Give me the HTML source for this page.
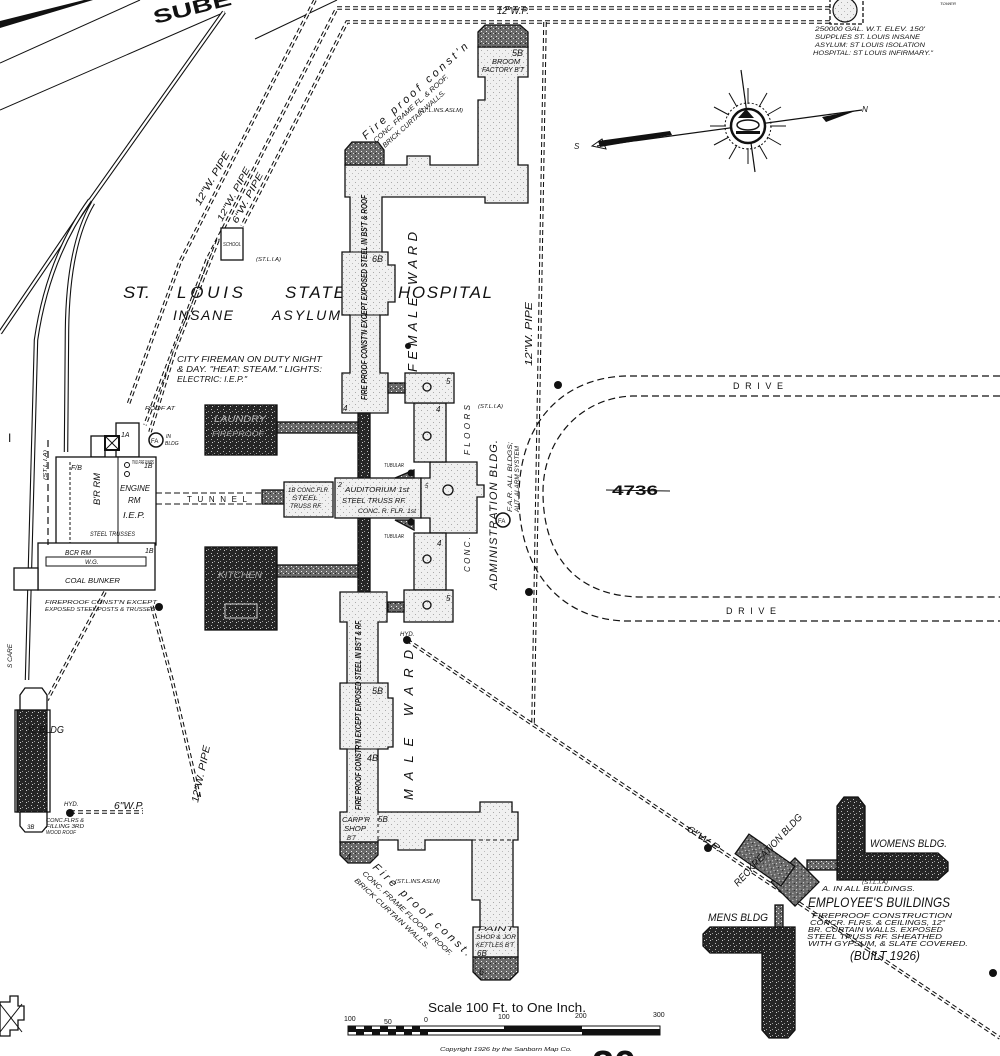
<!DOCTYPE html>
<html><head><meta charset="utf-8">
<style>
html,body{margin:0;padding:0;background:#fff;}
svg{display:block;}
text{font-family:"Liberation Sans",sans-serif;font-style:italic;fill:#111;}
.p1{stroke:#111;stroke-width:3.6;stroke-dasharray:5 3;fill:none}
.p2{stroke:#fff;stroke-width:1.5;fill:none}
.t1{stroke:#111;stroke-width:4.5;fill:none}
.t2{stroke:#fff;stroke-width:2.3;fill:none}
.b{stroke:#111;stroke-width:1.3}
.dl{stroke:#111;stroke-width:1.2;stroke-dasharray:7 4;fill:none}
.ln{stroke:#111;stroke-width:1;fill:none}
</style></head><body>
<svg width="1000" height="1056" viewBox="0 0 1000 1056" xmlns="http://www.w3.org/2000/svg">
<defs>
<pattern id="dk" width="6" height="6" patternUnits="userSpaceOnUse">
<rect width="6" height="6" fill="#262626"/>
<rect x="1" y="1" width="1" height="1" fill="#bbb"/>
<rect x="4" y="3" width="1" height="1" fill="#999"/>
<rect x="2" y="4" width="1" height="1" fill="#ccc"/>
</pattern>
<pattern id="md" width="5" height="5" patternUnits="userSpaceOnUse">
<rect width="5" height="5" fill="#6a6a6a"/>
<rect x="1" y="1" width="1" height="1" fill="#eee"/>
<rect x="3" y="3" width="1" height="1" fill="#ddd"/>
<rect x="0" y="3" width="1" height="1" fill="#222"/>
</pattern>
<pattern id="lt" width="6" height="6" patternUnits="userSpaceOnUse">
<rect width="6" height="6" fill="#f0f0f0"/>
<rect x="1" y="2" width="1" height="1" fill="#aaa"/>
<rect x="4" y="5" width="1" height="1" fill="#bbb"/>
</pattern>
<path id="pa" d="M315,0 L180,262 L128,405"/>
<path id="pb" d="M830,8 L337,8 L207,260 L145,425"/>
<path id="pc" d="M830,22 L347,22 L242,226"/>
<path id="pc2" d="M218,240 L175,350 L150,432"/>
<path id="pd" d="M545,22 L533,725"/>
<path id="pe" d="M407,640 L1000,1038"/>
<path id="pf" d="M152,606 L172,680 L200,800"/>
<path id="pg" d="M70,812 L143,812"/>
<path id="ph" d="M105,592 L47,700"/>
<path id="ta" d="M224,12 L87,205 L0,333"/>
<path id="tb" d="M90,200 Q48,258 36,340 L27,680"/>
<path id="tc" d="M93,203 Q68,245 67,330 L66,452"/>
</defs>
<rect width="1000" height="1056" fill="#fff"/>

<!-- top left lines -->
<polygon points="0,21 84,0 93,0 0,28" fill="#111"/>
<line x1="0" y1="63" x2="140" y2="0" class="ln"/>
<line x1="0" y1="110" x2="225" y2="12" class="ln"/>
<line x1="255" y1="39" x2="337" y2="0" class="ln"/>
<text transform="translate(155,24) rotate(-14)" font-size="19" font-weight="bold" style="font-style:normal" textLength="80" lengthAdjust="spacingAndGlyphs">SUBE</text>

<!-- tracks -->
<use href="#ta" class="t1"/><use href="#ta" class="t2"/>
<use href="#tb" class="t1"/><use href="#tb" class="t2"/>
<use href="#tc" class="t1"/><use href="#tc" class="t2"/>

<!-- pipes -->
<g>
<use href="#pa" class="p1"/><use href="#pa" class="p2"/>
<use href="#pb" class="p1"/><use href="#pb" class="p2"/>
<use href="#pc" class="p1"/><use href="#pc" class="p2"/>
<use href="#pc2" class="p1"/><use href="#pc2" class="p2"/>
<use href="#pd" class="p1"/><use href="#pd" class="p2"/>
<use href="#pe" class="p1"/><use href="#pe" class="p2"/>
<use href="#pf" class="p1"/><use href="#pf" class="p2"/>
<use href="#pg" class="p1"/><use href="#pg" class="p2"/>
<use href="#ph" class="p1"/><use href="#ph" class="p2"/>
</g>

<!-- pipe labels -->
<text x="497" y="14" font-size="10" textLength="32" lengthAdjust="spacingAndGlyphs">12"W.P.</text>
<text transform="translate(200,206) rotate(-60)" font-size="10" textLength="60" lengthAdjust="spacingAndGlyphs">12"W. PIPE</text>
<text transform="translate(222,222) rotate(-62)" font-size="9" textLength="60" lengthAdjust="spacingAndGlyphs">12"W. PIPE</text>
<text transform="translate(237,224) rotate(-62)" font-size="9" textLength="56" lengthAdjust="spacingAndGlyphs">6"W. PIPE</text>
<text transform="translate(532,366) rotate(-90)" font-size="10" textLength="64" lengthAdjust="spacingAndGlyphs">12"W. PIPE</text>
<text transform="translate(198,803) rotate(-78)" font-size="10" textLength="58" lengthAdjust="spacingAndGlyphs">12"W. PIPE</text>
<text transform="translate(686,830) rotate(34)" font-size="9" textLength="40" lengthAdjust="spacingAndGlyphs">6"W.P.</text>

<!-- water tower -->
<rect x="830" y="-2" width="33" height="26" fill="none" stroke="#111" stroke-width="1.3" stroke-dasharray="4 2"/>
<circle cx="845" cy="10" r="12" fill="url(#lt)" stroke="#111" stroke-width="1.2"/>
<text x="815" y="31" font-size="6.5" textLength="110" lengthAdjust="spacingAndGlyphs">250000 GAL. W.T. ELEV. 150'</text>
<text x="815" y="39" font-size="6.5" textLength="105" lengthAdjust="spacingAndGlyphs">SUPPLIES ST. LOUIS INSANE</text>
<text x="815" y="47" font-size="6.5" textLength="110" lengthAdjust="spacingAndGlyphs">ASYLUM: ST LOUIS ISOLATION</text>
<text x="813" y="55" font-size="6.5" textLength="120" lengthAdjust="spacingAndGlyphs">HOSPITAL: ST LOUIS INFIRMARY."</text>
<text x="940" y="5" font-size="4" textLength="16" lengthAdjust="spacingAndGlyphs">TOWER</text>

<!-- compass -->
<g>
<line x1="597" y1="146" x2="862" y2="110" stroke="#111" stroke-width="1.2"/>
<line x1="741" y1="70" x2="755" y2="172" stroke="#111" stroke-width="1.2"/>
<polygon points="598,141 670,131 672,135 600,147" fill="#111"/>
<polygon points="592,146 602,139 606,149" fill="none" stroke="#111"/>
<polygon points="822,117 858,110 826,122" fill="#111"/>
<g stroke="#111" stroke-width="1">
<line x1="770" y1="126" x2="786" y2="126"/><line x1="767" y1="115" x2="781" y2="107"/>
<line x1="759" y1="107" x2="767" y2="93"/><line x1="748" y1="104" x2="748" y2="88"/>
<line x1="737" y1="107" x2="729" y2="93"/><line x1="729" y1="115" x2="714" y2="107"/>
<line x1="726" y1="126" x2="710" y2="126"/><line x1="729" y1="137" x2="714" y2="145"/>
<line x1="737" y1="145" x2="729" y2="159"/><line x1="759" y1="145" x2="767" y2="159"/>
<line x1="767" y1="137" x2="781" y2="145"/><line x1="748" y1="148" x2="748" y2="164"/>
</g>
<circle cx="748" cy="126" r="23" fill="none" stroke="#111" stroke-width="1" stroke-dasharray="2 2"/>
<circle cx="748" cy="126" r="17" fill="#fff" stroke="#111" stroke-width="2.5"/>
<polygon points="738,118 746,109 754,118" fill="#111"/>
<ellipse cx="748" cy="125" rx="11" ry="5" fill="none" stroke="#111" stroke-width="1.5"/>
<rect x="736" y="131" width="24" height="3" fill="#111"/>
<text x="574" y="149" font-size="8">S</text>
<text x="862" y="112" font-size="8">N</text>
</g>

<!-- drive -->
<path d="M1000,376 L625,376 C565,378 519,420 519,497 C519,570 560,619 625,621 L1000,621" class="dl"/>
<path d="M1000,396 L632,396 C580,398 543,440 543,492 C543,555 575,596 640,597 L1000,597" class="dl"/>
<text x="733" y="389" font-size="9" style="font-style:normal" textLength="50" lengthAdjust="spacing">DRIVE</text>
<text x="726" y="614" font-size="9" style="font-style:normal" textLength="50" lengthAdjust="spacing">DRIVE</text>
<text x="612" y="495" font-size="14" font-weight="bold" style="font-style:normal" textLength="46" lengthAdjust="spacingAndGlyphs">4736</text>
<line x1="606" y1="490" x2="670" y2="491" stroke="#111" stroke-width="1"/>

<!-- hydrants -->
<g fill="#111">
<circle cx="407" cy="640" r="4"/><circle cx="558" cy="385" r="4"/><circle cx="529" cy="592" r="4"/>
<circle cx="70" cy="813" r="4"/><circle cx="993" cy="973" r="4"/><circle cx="708" cy="848" r="4"/>
<circle cx="159" cy="607" r="4"/><circle cx="408" cy="346" r="3"/>
</g>

<!-- school -->
<rect x="221" y="228" width="22" height="32" fill="#fff" class="b"/>
<text x="223" y="246" font-size="5" textLength="18" lengthAdjust="spacingAndGlyphs">SCHOOL</text>
<text x="256" y="261" font-size="5" textLength="25" lengthAdjust="spacingAndGlyphs">(ST.L.I.A)</text>

<!-- titles -->
<text x="123" y="298" font-size="17" textLength="27" lengthAdjust="spacingAndGlyphs">ST.</text>
<text x="177" y="298" font-size="17" textLength="66" lengthAdjust="spacing">LOUIS</text>
<text x="285" y="298" font-size="17" textLength="60" lengthAdjust="spacing">STATE</text>
<text x="398" y="298" font-size="17" textLength="94" lengthAdjust="spacing">HOSPITAL</text>
<text x="173" y="320" font-size="14" textLength="60" lengthAdjust="spacing">INSANE</text>
<text x="272" y="320" font-size="14" textLength="68" lengthAdjust="spacing">ASYLUM</text>
<text x="177" y="362" font-size="8.5" textLength="145" lengthAdjust="spacingAndGlyphs">CITY FIREMAN ON DUTY NIGHT</text>
<text x="177" y="372" font-size="8.5" textLength="145" lengthAdjust="spacingAndGlyphs">&amp; DAY. "HEAT: STEAM." LIGHTS:</text>
<text x="177" y="382" font-size="8.5" textLength="70" lengthAdjust="spacingAndGlyphs">ELECTRIC: I.E.P."</text>

<!-- north wing -->
<polygon points="345,165 407,165 407,156 430,156 430,165 478,165 478,100 485,100 485,77 478,77 478,47 528,47 528,77 518,77 518,165 528,165 528,203 485,203 485,197 382,197 382,252 388,252 388,265 395,265 395,302 388,302 388,315 380,315 380,373 388,373 388,413 342,413 342,373 350,373 350,315 342,315 342,252 350,252 350,197 345,197" fill="url(#lt)" class="b"/>
<polygon points="345,150 352,142 378,142 384,150 384,165 345,165" fill="url(#md)" class="b"/>
<polygon points="478,32 485,25 520,25 528,32 528,47 478,47" fill="url(#md)" class="b"/>
<line x1="342" y1="315" x2="388" y2="315" class="ln"/>
<line x1="342" y1="252" x2="382" y2="252" class="ln"/>
<text x="512" y="56" font-size="9">5B</text>
<text x="492" y="64" font-size="7" textLength="28" lengthAdjust="spacingAndGlyphs">BROOM</text>
<text x="482" y="72" font-size="7" textLength="42" lengthAdjust="spacingAndGlyphs">FACTORY B'T</text>
<text x="372" y="262" font-size="9">6B</text>
<text x="343" y="411" font-size="8">4</text>
<text transform="translate(367,400) rotate(-90)" font-size="8" font-weight="bold" textLength="205" lengthAdjust="spacingAndGlyphs">FIRE PROOF CONST'N EXCEPT EXPOSED STEEL IN BS'T &amp; ROOF</text>
<text transform="translate(366,140) rotate(-42)" font-size="11" textLength="138" lengthAdjust="spacing">Fire proof const'n</text>
<text transform="translate(376,143) rotate(-42)" font-size="7" textLength="98" lengthAdjust="spacingAndGlyphs">CONC. FRAME FL. &amp; ROOF.</text>
<text transform="translate(385,148) rotate(-42)" font-size="7" textLength="82" lengthAdjust="spacingAndGlyphs">BRICK CURTAIN WALLS.</text>
<text x="418" y="112" font-size="5" textLength="45" lengthAdjust="spacingAndGlyphs">(ST.L.INS.ASLM)</text>
<text transform="translate(417,372) rotate(-90)" font-size="13" textLength="140" lengthAdjust="spacing">FEMALE WARD</text>

<!-- central -->
<rect x="358" y="413" width="12" height="180" fill="url(#dk)" class="b"/>
<rect x="277" y="422" width="81" height="11" fill="url(#md)" class="b"/>
<rect x="277" y="565" width="81" height="12" fill="url(#md)" class="b"/>
<rect x="205" y="405" width="72" height="50" fill="url(#dk)" class="b"/>
<rect x="205" y="547" width="72" height="83" fill="url(#dk)" class="b"/>
<rect x="225" y="604" width="32" height="14" fill="none" stroke="#ccc" stroke-width="1"/>
<text x="214" y="422" font-size="9" style="fill:#bbb" textLength="52" lengthAdjust="spacingAndGlyphs">LAUNDRY</text>
<text x="212" y="436" font-size="7" style="fill:#aaa" textLength="52" lengthAdjust="spacingAndGlyphs">FIREPROOF</text>
<text x="218" y="578" font-size="9" style="fill:#aaa" textLength="44" lengthAdjust="spacingAndGlyphs">KITCHEN</text>
<rect x="262" y="490" width="22" height="14" fill="url(#md)" class="b"/>
<rect x="284" y="482" width="49" height="35" fill="url(#lt)" class="b"/>
<rect x="335" y="478" width="86" height="40" fill="url(#lt)" class="b"/>
<polygon points="421,478 430,478 430,462 477,462 477,485 484,485 484,497 477,497 477,533 430,533 430,518 421,518" fill="url(#lt)" class="b"/>
<rect x="414" y="403" width="32" height="59" fill="url(#lt)" class="b"/>
<rect x="405" y="373" width="49" height="30" fill="url(#lt)" class="b"/>
<rect x="414" y="533" width="32" height="57" fill="url(#lt)" class="b"/>
<rect x="404" y="590" width="49" height="32" fill="url(#lt)" class="b"/>
<rect x="388" y="383" width="17" height="10" fill="url(#md)" class="b"/>
<rect x="388" y="602" width="16" height="10" fill="url(#md)" class="b"/>
<polygon points="395,478 414,470 414,478" fill="url(#md)" class="b"/>
<polygon points="395,520 414,520 414,530" fill="url(#md)" class="b"/>
<circle cx="411" cy="473" r="3.5" fill="#111"/><circle cx="411" cy="522" r="3.5" fill="#111"/>
<circle cx="427" cy="387" r="4" fill="none" class="b"/><circle cx="427" cy="436" r="4" fill="none" class="b"/>
<circle cx="427" cy="559" r="4" fill="none" class="b"/><circle cx="427" cy="605" r="4" fill="none" class="b"/>
<circle cx="448" cy="490" r="5" fill="none" class="b"/>
<text x="288" y="492" font-size="6" textLength="40" lengthAdjust="spacingAndGlyphs">1B CONC.FLR</text>
<text x="292" y="500" font-size="6" textLength="26" lengthAdjust="spacingAndGlyphs">STEEL</text>
<text x="290" y="508" font-size="6" textLength="32" lengthAdjust="spacingAndGlyphs">TRUSS RF.</text>
<text x="338" y="487" font-size="7">2</text>
<text x="345" y="492" font-size="7.5" textLength="64" lengthAdjust="spacingAndGlyphs">AUDITORIUM 1st</text>
<text x="342" y="503" font-size="7" textLength="64" lengthAdjust="spacingAndGlyphs">STEEL TRUSS RF.</text>
<text x="358" y="513" font-size="6" textLength="58" lengthAdjust="spacingAndGlyphs">CONC. R. FLR. 1st</text>
<text x="446" y="384" font-size="8">5</text><text x="436" y="412" font-size="8">4</text>
<text x="437" y="546" font-size="8">4</text><text x="446" y="601" font-size="8">5</text>
<text x="425" y="488" font-size="6">5</text>
<text x="344" y="609" font-size="8">4B</text>
<text transform="translate(470,572) rotate(-90)" font-size="8" textLength="35" lengthAdjust="spacing">CONC.</text>
<text transform="translate(470,455) rotate(-90)" font-size="8" textLength="50" lengthAdjust="spacing">FLOORS</text>
<text x="478" y="408" font-size="5" textLength="25" lengthAdjust="spacingAndGlyphs">(ST.L.I.A)</text>
<text transform="translate(497,590) rotate(-90)" font-size="11" textLength="150" lengthAdjust="spacing">ADMINISTRATION BLDG.</text>
<text transform="translate(512,512) rotate(-90)" font-size="6" textLength="70" lengthAdjust="spacingAndGlyphs">F.A.R. ALL BLDGS;</text>
<text transform="translate(519,512) rotate(-90)" font-size="6" textLength="66" lengthAdjust="spacingAndGlyphs">AUT. ALARM SYSTEM</text>
<circle cx="503" cy="520" r="7" fill="#fff" stroke="#111" stroke-width="1.5"/>
<text x="498" y="523" font-size="6" style="font-style:normal">FA</text>
<text x="384" y="467" font-size="5" textLength="20" lengthAdjust="spacingAndGlyphs">TUBULAR</text>
<text x="384" y="538" font-size="5" textLength="20" lengthAdjust="spacingAndGlyphs">TUBULAR</text>

<!-- tunnel -->
<line x1="156" y1="493" x2="262" y2="493" stroke="#111" stroke-width="1" stroke-dasharray="6 3"/>
<line x1="156" y1="504" x2="262" y2="504" stroke="#111" stroke-width="1" stroke-dasharray="6 3"/>
<text x="187" y="502" font-size="8" style="font-style:normal" textLength="60" lengthAdjust="spacing">TUNNEL</text>

<!-- power house -->
<rect x="116" y="423" width="23" height="34" fill="#fff" class="b"/>
<rect x="91" y="436" width="14" height="21" fill="#fff" class="b"/>
<rect x="56" y="457" width="100" height="88" fill="#fff" class="b"/>
<rect x="38" y="543" width="117" height="47" fill="#fff" class="b"/>
<rect x="14" y="568" width="24" height="22" fill="#fff" class="b"/>
<rect x="105" y="436" width="14" height="14" fill="#fff" stroke="#111" stroke-width="2"/>
<line x1="105" y1="436" x2="119" y2="450" class="ln"/><line x1="119" y1="436" x2="105" y2="450" class="ln"/>
<line x1="118" y1="457" x2="118" y2="543" class="ln"/>
<line x1="70" y1="462" x2="70" y2="543" class="ln" stroke-dasharray="3 2"/>
<rect x="46" y="557" width="100" height="9" fill="#fff" class="ln"/>
<line x1="48" y1="440" x2="48" y2="545" class="dl"/>
<circle cx="127" cy="465" r="2.5" fill="none" class="ln"/><circle cx="127" cy="474" r="2.5" fill="none" class="ln"/>
<text transform="translate(100,505) rotate(-90)" font-size="9" textLength="32" lengthAdjust="spacingAndGlyphs">B'R RM</text>
<text x="71" y="470" font-size="7">F/B</text>
<text x="120" y="491" font-size="8" textLength="30" lengthAdjust="spacingAndGlyphs">ENGINE</text>
<text x="128" y="503" font-size="8">RM</text>
<text x="123" y="518" font-size="8" textLength="22" lengthAdjust="spacingAndGlyphs">I.E.P.</text>
<text x="132" y="464" font-size="5" textLength="22" lengthAdjust="spacingAndGlyphs">TWO FIRE PUMPS</text>
<text x="90" y="536" font-size="6" textLength="45" lengthAdjust="spacingAndGlyphs">STEEL TRUSSES</text>
<text x="65" y="555" font-size="7" textLength="26" lengthAdjust="spacingAndGlyphs">BCR RM</text>
<text x="85" y="564" font-size="6">W.G.</text>
<text x="65" y="583" font-size="7" textLength="55" lengthAdjust="spacingAndGlyphs">COAL BUNKER</text>
<text x="145" y="553" font-size="7">1B</text>
<text x="144" y="468" font-size="7">1B</text>
<text x="121" y="437" font-size="7">1A</text>
<text x="45" y="604" font-size="5.5" textLength="112" lengthAdjust="spacingAndGlyphs">FIREPROOF CONST'N EXCEPT</text>
<text x="45" y="611" font-size="5.5" textLength="110" lengthAdjust="spacingAndGlyphs">EXPOSED STEEL POSTS &amp; TRUSSES</text>
<circle cx="156" cy="440" r="7" fill="#fff" stroke="#111" stroke-width="1.5"/>
<text x="151" y="443" font-size="6" style="font-style:normal">FA</text>
<text x="166" y="438" font-size="5">IN</text><text x="165" y="445" font-size="5">BLDG</text>
<text x="145" y="410" font-size="5" textLength="30" lengthAdjust="spacingAndGlyphs">ROOF AT</text>
<text transform="translate(47,480) rotate(-90)" font-size="5" textLength="30" lengthAdjust="spacingAndGlyphs">(ST.L.I.A)</text>
<text x="8" y="442" font-size="12" style="font-style:normal">I</text>
<text transform="translate(12,668) rotate(-90)" font-size="6" textLength="24" lengthAdjust="spacingAndGlyphs">S CARE</text>

<!-- south wing -->
<polygon points="340,592 387,592 387,622 378,622 378,683 388,683 388,698 393,698 393,747 388,747 388,749 378,749 378,812 480,812 480,802 512,802 512,812 518,812 518,840 513,840 513,927 518,927 518,957 473,957 473,927 480,927 480,900 472,900 472,840 425,840 425,850 398,850 398,840 378,840 378,842 340,842 340,812 347,812 347,749 340,749 340,683 347,683 347,622 340,622" fill="url(#lt)" class="b"/>
<polygon points="340,842 378,842 378,855 370,863 348,863 340,855" fill="url(#md)" class="b"/>
<polygon points="473,957 518,957 518,972 510,980 481,980 473,972" fill="url(#md)" class="b"/>
<line x1="340" y1="683" x2="378" y2="683" class="ln"/><line x1="340" y1="749" x2="378" y2="749" class="ln"/>
<line x1="472" y1="840" x2="513" y2="840" class="ln" stroke-dasharray="4 3"/>
<line x1="378" y1="812" x2="378" y2="840" class="ln" stroke-dasharray="3 3"/>
<text x="372" y="694" font-size="9">5B</text>
<text x="367" y="761" font-size="9">4B</text>
<text x="378" y="822" font-size="8">5B</text>
<text x="342" y="822" font-size="7" textLength="28" lengthAdjust="spacingAndGlyphs">CARP'R</text>
<text x="344" y="831" font-size="7" textLength="22" lengthAdjust="spacingAndGlyphs">SHOP</text>
<text x="347" y="840" font-size="6">B'T</text>
<text x="346" y="860" font-size="9">4</text>
<text x="478" y="931" font-size="6.5" textLength="36" lengthAdjust="spacingAndGlyphs">PAINT</text>
<text x="476" y="939" font-size="6.5" textLength="40" lengthAdjust="spacingAndGlyphs">SHOP &amp; JOR</text>
<text x="476" y="947" font-size="6.5" textLength="38" lengthAdjust="spacingAndGlyphs">KETTLES B'T</text>
<text x="477" y="956" font-size="8">6B</text>
<text x="479" y="975" font-size="9">6</text>
<text transform="translate(361,810) rotate(-90)" font-size="8" font-weight="bold" textLength="190" lengthAdjust="spacingAndGlyphs">FIRE PROOF CONSTR'N EXCEPT EXPOSED STEEL IN BS'T &amp; RF.</text>
<text transform="translate(413,800) rotate(-90)" font-size="13" textLength="150" lengthAdjust="spacing">MALE WARD</text>
<text x="400" y="636" font-size="6">HYD.</text>
<text transform="translate(372,868) rotate(43)" font-size="11" textLength="130" lengthAdjust="spacing">Fire proof const.</text>
<text transform="translate(362,874) rotate(43)" font-size="7" textLength="120" lengthAdjust="spacingAndGlyphs">CONC. FRAME FLOOR &amp; ROOF.</text>
<text transform="translate(354,881) rotate(43)" font-size="7" textLength="100" lengthAdjust="spacingAndGlyphs">BRICK CURTAIN WALLS.</text>
<text x="395" y="883" font-size="5" textLength="45" lengthAdjust="spacingAndGlyphs">(ST.L.INS.ASLM)</text>

<!-- K bldg -->
<polygon points="20,695 25,688 42,688 47,695 47,710 50,710 50,812 47,812 47,826 42,832 25,832 20,826 20,812 15,812 15,710 20,710" fill="#fff" class="b"/>
<rect x="17" y="710" width="30" height="102" fill="url(#dk)" class="b"/>
<text x="28" y="733" font-size="10" textLength="36" lengthAdjust="spacingAndGlyphs">K. BLDG</text>
<text x="27" y="829" font-size="6">3B</text>
<text x="64" y="806" font-size="6">HYD.</text>
<text x="114" y="809" font-size="10" textLength="30" lengthAdjust="spacingAndGlyphs">6"W.P.</text>
<text x="46" y="822" font-size="5" textLength="38" lengthAdjust="spacingAndGlyphs">CONC.FLRS &amp;</text>
<text x="46" y="828" font-size="5" textLength="38" lengthAdjust="spacingAndGlyphs">FILLING 3RD</text>
<text x="46" y="834" font-size="5" textLength="30" lengthAdjust="spacingAndGlyphs">WOOD ROOF</text>

<!-- bottom-left small bldg -->
<polygon points="0,1002 10,1002 10,996 18,996 18,1006 24,1006 24,1020 18,1020 18,1030 10,1030 10,1036 0,1036" fill="#fff" class="b"/>
<line x1="0" y1="1004" x2="22" y2="1032" class="ln"/><line x1="22" y1="1004" x2="0" y2="1032" class="ln"/>

<!-- employees buildings -->
<path d="M837,806 L844,797 L858,797 L865,806 L865,853 L938,853 L948,862 L948,871 L938,880 L837,880 Z" fill="url(#dk)" class="b"/>
<rect x="807" y="860" width="30" height="10" fill="url(#md)" class="b"/>
<rect x="778" y="865" width="34" height="34" transform="rotate(45 795 882)" fill="url(#md)" class="b"/>
<rect x="737" y="848" width="56" height="24" transform="rotate(35 765 860)" fill="url(#md)" class="b"/>
<rect x="775" y="905" width="8" height="22" fill="url(#md)" class="b"/>
<path d="M710,927 L795,927 L795,1030 L788,1038 L769,1038 L762,1030 L762,953 L710,953 L703,946 L703,934 Z" fill="url(#dk)" class="b"/>
<text x="870" y="847" font-size="11" textLength="77" lengthAdjust="spacingAndGlyphs">WOMENS BLDG.</text>
<text x="862" y="884" font-size="5" textLength="26" lengthAdjust="spacingAndGlyphs">(ST.L.I.A)</text>
<text x="822" y="891" font-size="7" textLength="93" lengthAdjust="spacingAndGlyphs">A. IN ALL BUILDINGS.</text>
<text x="808" y="907" font-size="14" textLength="142" lengthAdjust="spacingAndGlyphs">EMPLOYEE'S BUILDINGS</text>
<text x="812" y="918" font-size="7" textLength="140" lengthAdjust="spacingAndGlyphs">FIREPROOF CONSTRUCTION</text>
<text x="810" y="925" font-size="7" textLength="135" lengthAdjust="spacingAndGlyphs">CONCR. FLRS. &amp; CEILINGS, 12"</text>
<text x="808" y="932" font-size="7" textLength="135" lengthAdjust="spacingAndGlyphs">BR. CURTAIN WALLS. EXPOSED</text>
<text x="807" y="939" font-size="7" textLength="135" lengthAdjust="spacingAndGlyphs">STEEL TRUSS RF. SHEATHED</text>
<text x="808" y="946" font-size="7" textLength="160" lengthAdjust="spacingAndGlyphs">WITH GYPSUM, &amp; SLATE COVERED.</text>
<text x="850" y="960" font-size="13" textLength="70" lengthAdjust="spacingAndGlyphs">(BUILT 1926)</text>
<text x="708" y="921" font-size="11" textLength="60" lengthAdjust="spacingAndGlyphs">MENS BLDG</text>
<text transform="translate(738,887) rotate(-47)" font-size="10" textLength="95" lengthAdjust="spacingAndGlyphs">RECKREATION BLDG</text>

<!-- scale -->
<text x="428" y="1012" font-size="13" style="font-style:normal" textLength="158" lengthAdjust="spacingAndGlyphs">Scale 100 Ft. to One Inch.</text>
<g font-size="7">
<text x="344" y="1021" style="font-style:normal">100</text>
<text x="384" y="1024" style="font-style:normal">50</text>
<text x="424" y="1022" style="font-style:normal">0</text>
<text x="498" y="1019" style="font-style:normal">100</text>
<text x="575" y="1018" style="font-style:normal">200</text>
<text x="653" y="1017" style="font-style:normal">300</text>
</g>
<rect x="348" y="1026" width="312" height="9" fill="#fff" stroke="#111" stroke-width="1"/>
<rect x="348" y="1029" width="312" height="3" fill="#111"/>
<g fill="#111">
<rect x="348" y="1026" width="8" height="3"/><rect x="364" y="1026" width="8" height="3"/><rect x="380" y="1026" width="8" height="3"/><rect x="396" y="1026" width="8" height="3"/><rect x="412" y="1026" width="8" height="3"/>
<rect x="356" y="1032" width="8" height="3"/><rect x="372" y="1032" width="8" height="3"/><rect x="388" y="1032" width="8" height="3"/><rect x="404" y="1032" width="8" height="3"/><rect x="420" y="1032" width="8" height="3"/>
<rect x="504" y="1026" width="78" height="3"/><rect x="582" y="1032" width="78" height="3"/>
</g>
<text x="440" y="1051" font-size="5" textLength="132" lengthAdjust="spacingAndGlyphs">Copyright 1926 by the Sanborn Map Co.</text>
<text x="592" y="1076" font-size="36" font-weight="bold" style="font-style:normal" textLength="44" lengthAdjust="spacingAndGlyphs">20</text>
</svg>
</body></html>
